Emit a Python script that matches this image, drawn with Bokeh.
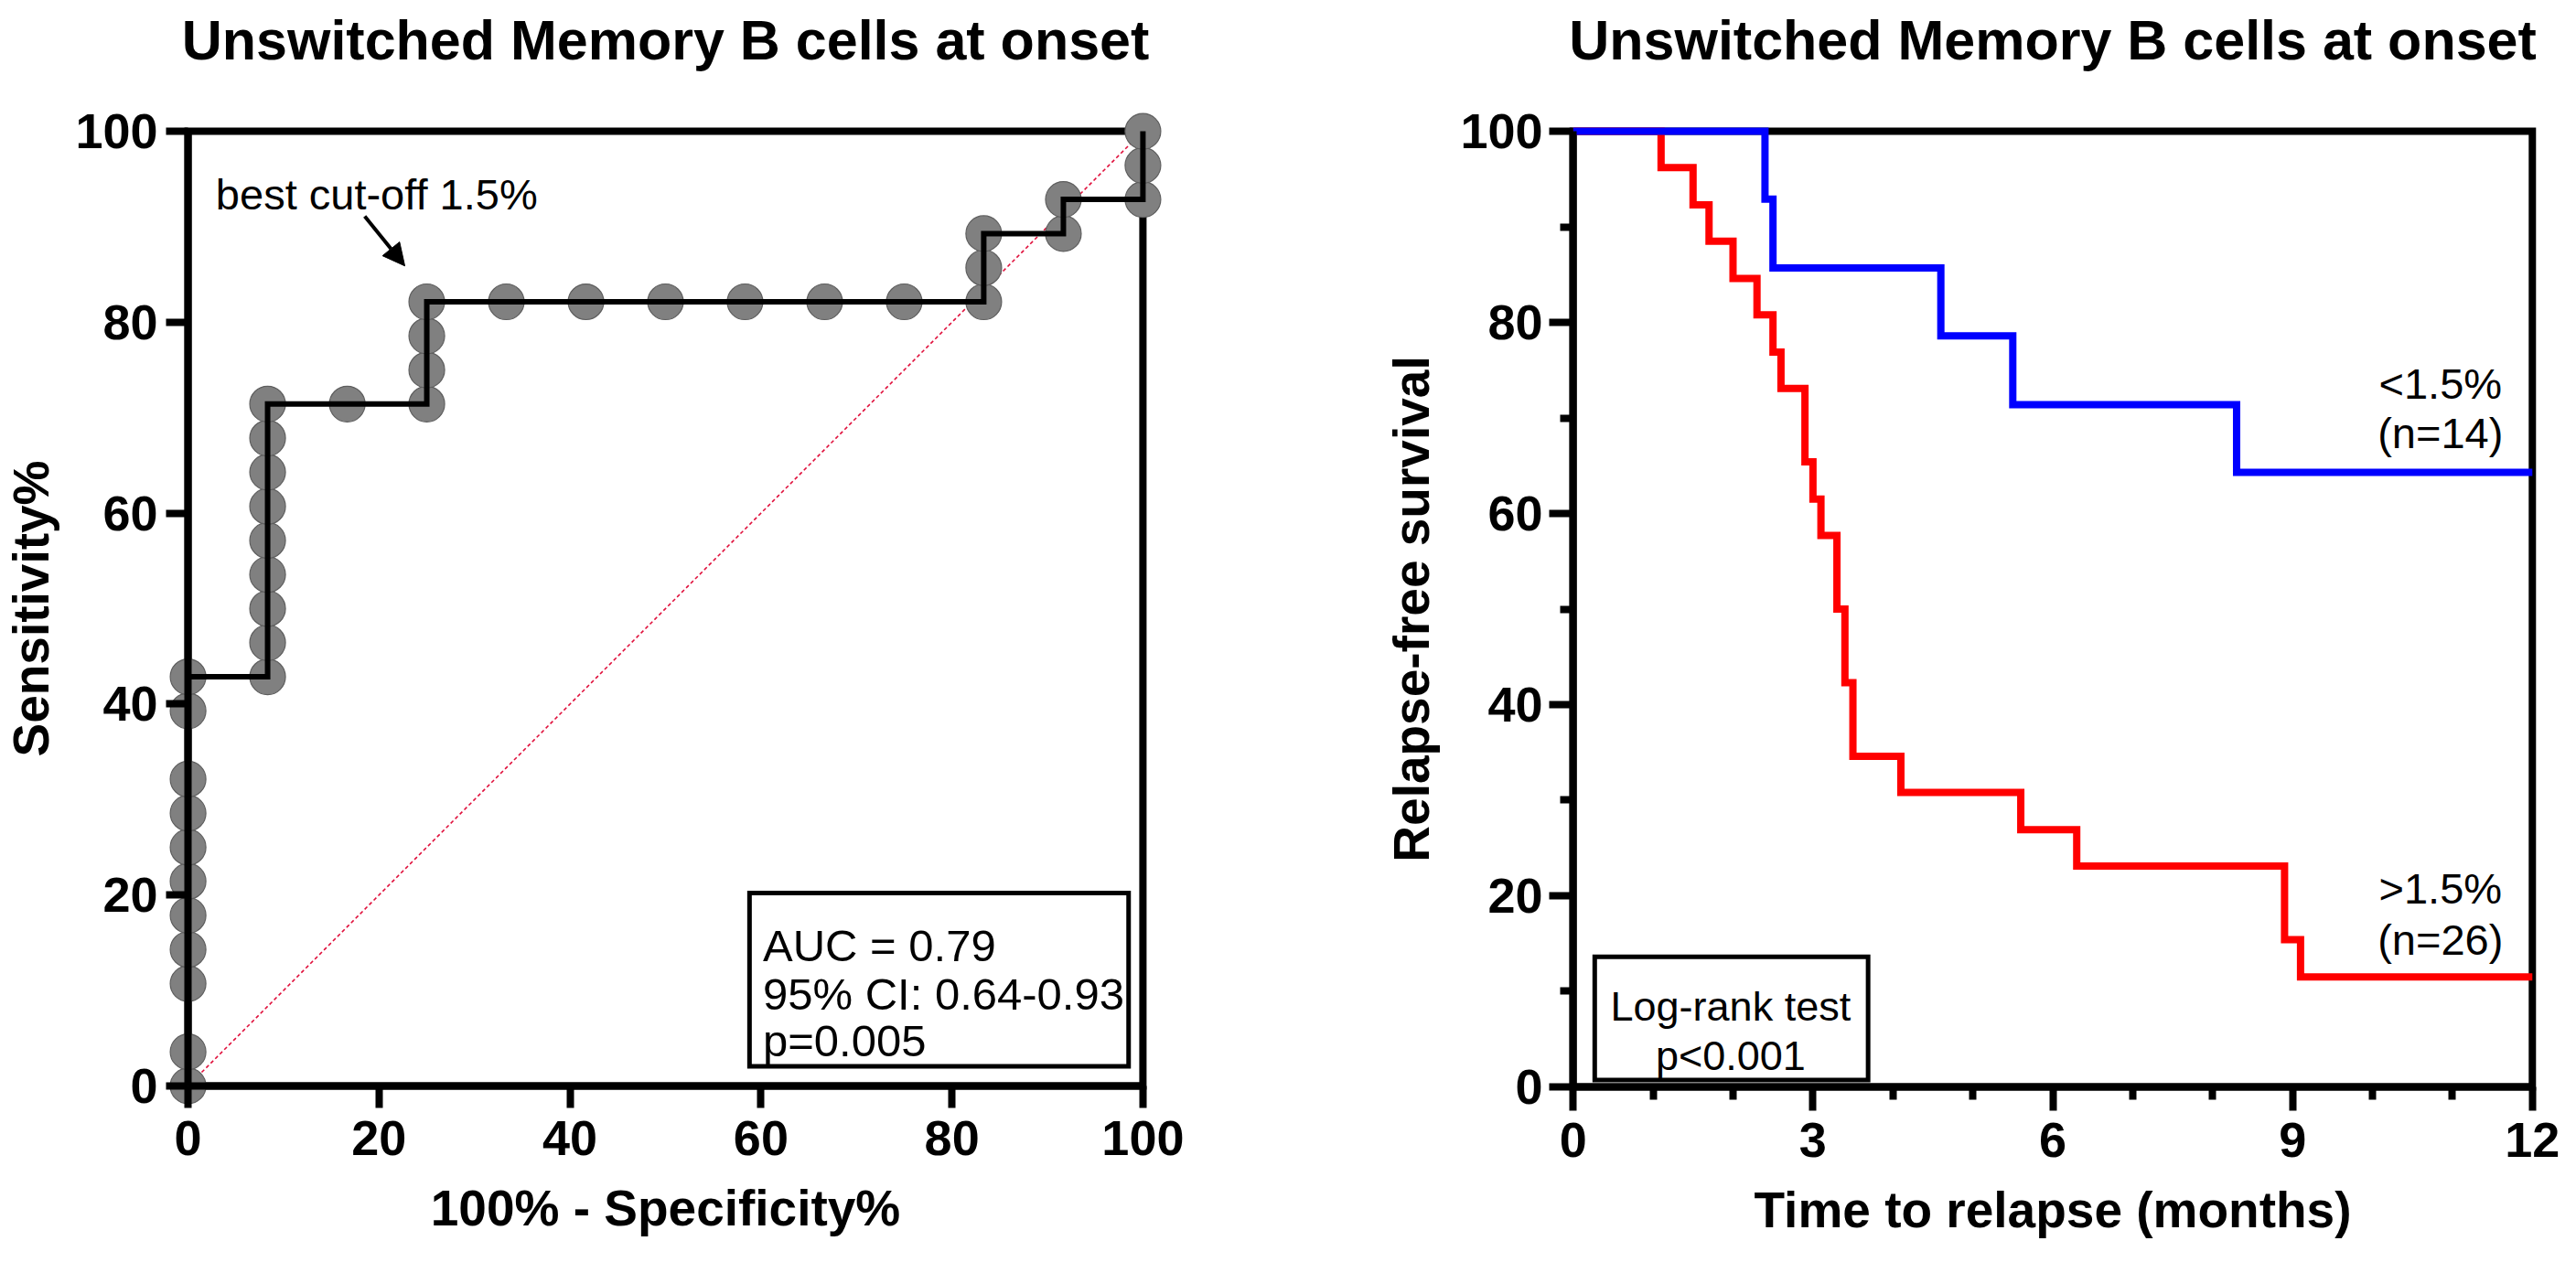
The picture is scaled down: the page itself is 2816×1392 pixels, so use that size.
from bokeh.plotting import figure
from bokeh.layouts import row
from bokeh.models import Range1d, FixedTicker, Arrow, NormalHead, LinearAxis, Title
from bokeh.core.properties import value
from bokeh.embed import file_html
from bokeh.resources import INLINE

FONT = "Liberation Sans"
TITLE = "Unswitched Memory B cells at onset"

# ---------------- ROC data (100% - Specificity%, Sensitivity%) ----------------
roc_fpr = [0, 0, 0, 0, 0, 0, 0, 0, 0, 0, 0,
           8.33, 8.33, 8.33, 8.33, 8.33, 8.33, 8.33, 8.33, 8.33,
           16.67,
           25, 25, 25, 25,
           33.33, 41.67, 50, 58.33, 66.67, 75,
           83.33, 83.33, 83.33,
           91.67, 91.67,
           100, 100, 100]
roc_sens = [0, 3.57, 10.71, 14.29, 17.86, 21.43, 25, 28.57, 32.14, 39.29, 42.86,
            42.86, 46.43, 50, 53.57, 57.14, 60.71, 64.29, 67.86, 71.43,
            71.43,
            71.43, 75, 78.57, 82.14,
            82.14, 82.14, 82.14, 82.14, 82.14, 82.14,
            82.14, 85.71, 89.29,
            89.29, 92.86,
            92.86, 96.43, 100]
roc_ticks = [0, 20, 40, 60, 80, 100]
chance_x = [0, 100]
chance_y = [0, 100]
auc_lines = ["AUC = 0.79", "95% CI: 0.64-0.93", "p=0.005"]
cutoff_label = "best cut-off 1.5%"

# ---------------- Kaplan-Meier data (months, relapse-free %) ----------------
low_t = [0, 2.4, 2.5, 4.6, 5.5, 8.3, 12]
low_s = [100, 92.9, 85.7, 78.6, 71.4, 64.3, 64.3]
high_t = [0, 1.1, 1.5, 1.7, 2.0, 2.3, 2.5, 2.6, 2.9, 3.0, 3.1, 3.3, 3.4, 3.5,
          4.1, 5.6, 6.3, 8.9, 9.1, 12]
high_s = [100, 96.2, 92.3, 88.5, 84.6, 80.8, 76.9, 73.1, 65.4, 61.5, 57.7, 50.0,
          42.3, 34.6, 30.8, 26.9, 23.1, 15.4, 11.5, 11.5]
km_xticks = [0, 3, 6, 9, 12]
km_xminor = [1, 2, 4, 5, 7, 8, 10, 11]
km_yticks = [0, 20, 40, 60, 80, 100]
km_yminor = [10, 30, 50, 70, 90]
low_label = ["<1.5%", "(n=14)"]
high_label = [">1.5%", "(n=26)"]
logrank_lines = ["Log-rank test", "p<0.001"]


def label_axis_style(ax, tick_standoff, title_standoff):
    # axis that only carries tick labels and the axis title
    ax.axis_line_color = None
    ax.major_tick_line_color = None
    ax.minor_tick_line_color = None
    ax.major_tick_in = 0
    ax.major_tick_out = 0
    ax.minor_tick_in = 0
    ax.minor_tick_out = 0
    ax.major_label_text_font = FONT
    ax.major_label_text_font_style = "bold"
    ax.major_label_text_font_size = "54px"
    ax.major_label_text_color = "black"
    ax.major_label_standoff = tick_standoff
    ax.axis_label_text_font = FONT
    ax.axis_label_text_font_style = "bold"
    ax.axis_label_text_font_size = "55px"
    ax.axis_label_text_color = "black"
    ax.axis_label_standoff = title_standoff


def line_axis(ticks, minor, bounds, tick_out):
    # axis drawn through data value 0: line and tick marks only
    ax = LinearAxis(ticker=FixedTicker(ticks=ticks, minor_ticks=minor),
                    fixed_location=0, bounds=bounds)
    ax.axis_line_width = 8
    ax.axis_line_color = "black"
    ax.major_tick_line_width = 8
    ax.major_tick_line_color = "black"
    ax.minor_tick_line_width = 8
    ax.minor_tick_line_color = "black" if minor else None
    ax.major_tick_in = 0
    ax.minor_tick_in = 0
    ax.major_tick_out = tick_out
    ax.minor_tick_out = 14
    ax.major_label_text_color = None
    ax.major_label_text_font_size = "1px"
    return ax


def style_fig(p):
    p.outline_line_color = None
    p.xgrid.visible = False
    p.ygrid.visible = False
    p.background_fill_color = "white"
    p.border_fill_color = "white"
    # spacer between frame and title, then the title itself
    p.add_layout(Title(text=" ", text_font_size="16px", standoff=21), "above")
    p.add_layout(Title(text=TITLE, text_font=FONT, text_font_style="bold",
                       text_font_size="61px", text_color="black", align="center",
                       vertical_align="bottom", standoff=0), "above")


# ============================ ROC figure ============================
p1 = figure(frame_width=1096, frame_height=1096,
            min_border_left=177, min_border_right=127,
            min_border_top=114, min_border_bottom=166,
            x_range=Range1d(-2.5, 102.5), y_range=Range1d(-2.5, 102.5),
            output_backend="svg", toolbar_location=None)
style_fig(p1)
p1.xaxis.ticker = FixedTicker(ticks=roc_ticks)
p1.yaxis.ticker = FixedTicker(ticks=roc_ticks)
p1.xaxis.axis_label = "100% - Specificity%"
p1.yaxis.axis_label = "Sensitivity%"
label_axis_style(p1.xaxis[0], 12, 24)
label_axis_style(p1.yaxis[0], 7, 14)
p1.add_layout(line_axis(roc_ticks, [], (roc_ticks[0], roc_ticks[-1]), 24), "below")
p1.add_layout(line_axis(roc_ticks, [], (roc_ticks[0], roc_ticks[-1]), 24), "left")

# frame (top / right border)
p1.quad(left=[roc_ticks[0]], right=[roc_ticks[-1]], bottom=[roc_ticks[0]], top=[roc_ticks[-1]],
        fill_color=None, line_color="black", line_width=8, line_join="miter")
# chance diagonal
p1.line(chance_x, chance_y, line_color="#e0103c", line_width=1.6, line_dash="4 3")
# ROC points
p1.scatter(roc_fpr, roc_sens, size=39, marker="circle",
           fill_color="#808080", line_color="#5e5e5e", line_width=1.2)
# ROC step line
p1.line(roc_fpr, roc_sens, line_color="black", line_width=6, line_join="miter")

# cut-off annotation
p1.text(x=[2.9], y=[93.4], text=[cutoff_label], text_font=value(FONT),
        text_font_size="47px", text_color="black", text_baseline="alphabetic", text_align="left")
p1.add_layout(Arrow(end=NormalHead(size=24, fill_color="black", line_color="black", line_width=1),
                    x_start=18.5, y_start=91.1, x_end=22.7, y_end=85.9,
                    line_width=4, line_color="black"))

# AUC box
p1.quad(left=[58.8], right=[98.5], bottom=[2.05], top=[20.2],
        fill_color="white", line_color="black", line_width=5, line_join="miter")
p1.text(x=[60.2, 60.2, 60.2], y=[14.7, 9.6, 4.7], text=auc_lines, text_font=value(FONT),
        text_font_size="49px", text_color="black", text_baseline="alphabetic", text_align="left")

# ============================ KM figure ============================
p2 = figure(frame_width=1101, frame_height=1097,
            min_border_left=291, min_border_right=8,
            min_border_top=117, min_border_bottom=162,
            x_range=Range1d(-0.3, 12.3), y_range=Range1d(-2.5, 102.5),
            output_backend="svg", toolbar_location=None)
style_fig(p2)
p2.xaxis.ticker = FixedTicker(ticks=km_xticks)
p2.yaxis.ticker = FixedTicker(ticks=km_yticks)
p2.xaxis.axis_label = "Time to relapse (months)"
p2.yaxis.axis_label = "Relapse-free survival"
label_axis_style(p2.xaxis[0], 13, 24)
label_axis_style(p2.yaxis[0], 7, 19)
p2.add_layout(line_axis(km_xticks, km_xminor, (km_xticks[0], km_xticks[-1]), 27), "below")
p2.add_layout(line_axis(km_yticks, km_yminor, (km_yticks[0], km_yticks[-1]), 27), "left")

p2.quad(left=[km_xticks[0]], right=[km_xticks[-1]], bottom=[km_yticks[0]], top=[km_yticks[-1]],
        fill_color=None, line_color="black", line_width=8, line_join="miter")
p2.step(high_t, high_s, mode="after", line_color="#ff0000", line_width=8, line_join="miter")
p2.step(low_t, low_s, mode="after", line_color="#0000ff", line_width=8, line_join="miter")

p2.text(x=[10.85, 10.85], y=[73.6, 68.4], text=low_label, text_font=value(FONT),
        text_font_size="47px", text_color="black", text_baseline="alphabetic", text_align="center")
p2.text(x=[10.85, 10.85], y=[20.8, 15.4], text=high_label, text_font=value(FONT),
        text_font_size="47px", text_color="black", text_baseline="alphabetic", text_align="center")

p2.quad(left=[0.27], right=[3.69], bottom=[0.7], top=[13.6],
        fill_color="white", line_color="black", line_width=5, line_join="miter")
p2.text(x=[1.97, 1.97], y=[8.4, 3.2], text=logrank_lines, text_font=value(FONT),
        text_font_size="45px", text_color="black", text_baseline="alphabetic", text_align="center")

layout = row(p1, p2, spacing=0)
open("out.html", "w").write(file_html(layout, INLINE))
